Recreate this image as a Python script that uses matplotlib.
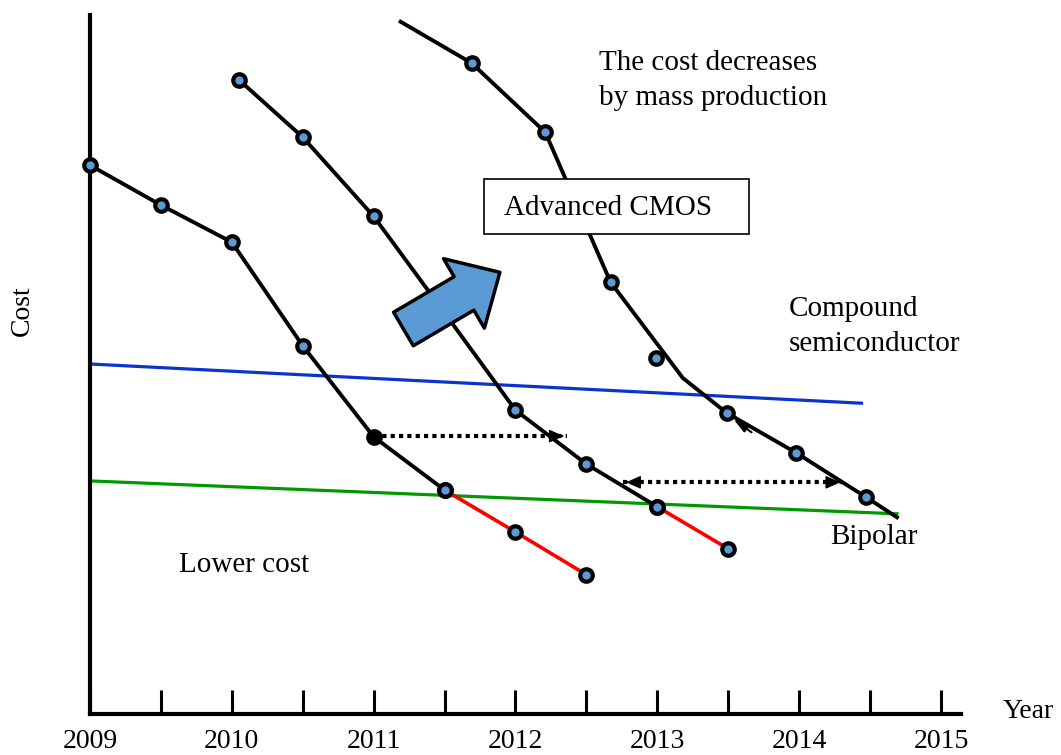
import matplotlib
matplotlib.use('Agg')
import matplotlib.pyplot as plt
from matplotlib.patches import Rectangle, FancyArrowPatch

plt.rcParams['font.family'] = ['Liberation Serif', 'DejaVu Serif']

# year ticks
year_labels = [2009, 2010, 2011, 2012, 2013, 2014, 2015]
half_ticks = [2009 + 0.5 * i for i in range(13)]

# first generation
gen1_x = [2009, 2009.5, 2010, 2010.5, 2011, 2011.5]
gen1_y = [78.4, 72.7, 67.4, 52.6, 39.6, 32.0]
gen1_red_x = [2011.5, 2012, 2012.5]
gen1_red_y = [32.0, 26.0, 19.9]

# second generation
gen2_x = [2010.05, 2010.5, 2011, 2011.5, 2012, 2012.5, 2013]
gen2_y = [90.6, 82.4, 71.1, 57.3, 43.4, 35.7, 29.6]
gen2_red_x = [2013, 2013.5]
gen2_red_y = [29.6, 23.6]

# third generation (advanced CMOS)
gen3_x = [2011.19, 2011.69, 2012.21, 2012.67, 2013.18, 2013.49, 2013.98, 2014.47, 2014.69]
gen3_y = [98.9, 93.0, 83.1, 61.7, 48.0, 43.0, 37.3, 31.0, 28.1]
gen3_mx = [2011.69, 2012.21, 2012.67, 2012.99, 2013.49, 2013.98, 2014.47]
gen3_my = [93.0, 83.1, 61.7, 50.9, 43.0, 37.3, 31.0]

# compound semiconductor / bipolar levels
comp_x = [2009, 2014.44]
comp_y = [50.0, 44.4]
bip_x = [2009, 2014.69]
bip_y = [33.3, 28.6]

# dotted shift arrows
shift1_x = [2011.0, 2012.36]
shift1_y = [39.7, 39.7]
shift2_x = [2012.76, 2014.31]
shift2_y = [33.1, 33.1]

fig = plt.figure(figsize=(10.61, 7.55), dpi=100)
ax = fig.add_axes([90 / 1061, 41 / 755, 871 / 1061, 699 / 755])
ax.set_xlim(2009, 2009 + 871 / 141.83)
ax.set_ylim(0, 99.86)

for s in ['top', 'right']:
    ax.spines[s].set_visible(False)
for s in ['left', 'bottom']:
    ax.spines[s].set_linewidth(3)
ax.set_xticks(half_ticks)
ax.set_xticklabels([str(int(t)) if t == int(t) else '' for t in half_ticks], fontsize=20)
ax.tick_params(axis='x', direction='in', length=17, width=2.2, pad=11)
ax.set_yticks([])

mk = dict(marker='o', markersize=9, mfc='#5B9BD5', mec='black', mew=3)

ax.plot(gen1_x, gen1_y, color='black', lw=2.8, zorder=3, clip_on=False, **mk)
ax.plot(gen1_red_x, gen1_red_y, color='red', lw=2.6, zorder=3, **mk)
ax.plot([gen1_x[4]], [gen1_y[4]], 'o', color='black', markersize=10, zorder=5)

ax.plot(gen2_x, gen2_y, color='black', lw=2.8, zorder=3, **mk)
ax.plot(gen2_red_x, gen2_red_y, color='red', lw=2.6, zorder=3, **mk)

ax.plot(gen3_x, gen3_y, color='black', lw=2.8, zorder=3)
ax.plot(gen3_mx, gen3_my, ls='none', zorder=4, **mk)
ax.annotate('', xy=(2013.52, 42.4), xytext=(2013.68, 40.0),
            arrowprops=dict(arrowstyle='-|>,head_length=0.9,head_width=0.25',
                            color='black', lw=1.5), zorder=4)

ax.plot(comp_x, comp_y, color='#0A35CC', lw=2.3, zorder=2)
ax.plot(bip_x, bip_y, color='#009900', lw=2.3, zorder=2)

# dotted arrows
ax.plot(shift1_x, shift1_y, color='black', lw=3, ls=(0, (1, 1)), zorder=4)
ax.annotate('', xy=(shift1_x[1], shift1_y[1]), xytext=(shift1_x[1] - 0.05, shift1_y[1]),
            arrowprops=dict(arrowstyle='-|>,head_length=0.9,head_width=0.4',
                            color='black', lw=1), zorder=5)
ax.plot(shift2_x, shift2_y, color='black', lw=3, ls=(0, (1, 1)), zorder=4)
ax.annotate('', xy=(shift2_x[1], shift2_y[1]), xytext=(shift2_x[1] - 0.05, shift2_y[1]),
            arrowprops=dict(arrowstyle='-|>,head_length=0.9,head_width=0.4',
                            color='black', lw=1), zorder=5)
ax.annotate('', xy=(shift2_x[0], shift2_y[0]), xytext=(shift2_x[0] + 0.05, shift2_y[0]),
            arrowprops=dict(arrowstyle='-|>,head_length=0.9,head_width=0.4',
                            color='black', lw=1), zorder=5)

# block arrow
big = FancyArrowPatch(posA=(2011.21, 55.0), posB=(2011.89, 63.1),
                      arrowstyle='simple,head_length=30,head_width=58,tail_width=28',
                      mutation_scale=1, shrinkA=0, shrinkB=0,
                      fc='#5B9BD5', ec='black', lw=2.5, zorder=6)
ax.add_patch(big)

# Advanced CMOS box
ax.add_patch(Rectangle((2011.778, 68.6), 1.87, 7.85, fc='white', ec='black', lw=1.2, zorder=6))
ax.text(2011.92, 72.3, 'Advanced CMOS', fontsize=21, va='center', ha='left', zorder=7)

ax.text(2012.59, 94.9, 'The cost decreases\nby mass production', fontsize=21,
        va='top', ha='left', linespacing=1.45)
ax.text(2013.93, 55.3, 'Compound\nsemiconductor', fontsize=21, va='center', ha='left',
        linespacing=1.45)
ax.text(2014.22, 25.3, 'Bipolar', fontsize=21, va='center', ha='left')
ax.text(2009.63, 21.3, 'Lower cost', fontsize=21, va='center', ha='left')

fig.text(22 / 1061, 1 - 311 / 755, 'Cost', fontsize=20, rotation=90, va='center', ha='center')
fig.text(1003 / 1061, 1 - 711 / 755, 'Year', fontsize=20, va='center', ha='left')

fig.savefig('out.png', dpi=100)
